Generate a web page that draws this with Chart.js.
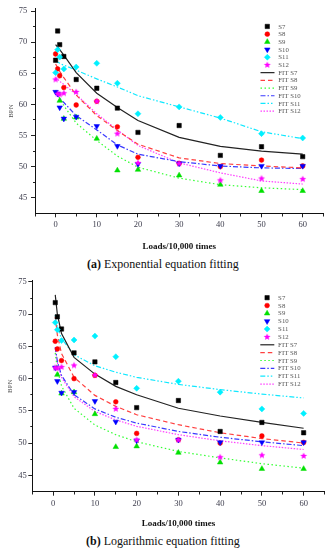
<!DOCTYPE html>
<html><head><meta charset="utf-8">
<script src="https://cdn.jsdelivr.net/npm/chart.js@4/dist/chart.umd.min.js"></script>
<style>
html,body{margin:0;padding:0;background:#fff;width:329px;height:550px;overflow:hidden;}
.wrap{position:absolute;left:0;}
.cap{position:absolute;font-family:"Liberation Serif",serif;font-size:12px;line-height:14px;color:#111;white-space:nowrap;}
</style></head><body>
<div class="wrap" style="top:0px"><canvas id="ca" width="329" height="255"></canvas></div>
<div class="cap" style="top:257px;left:87px"><b>(a)</b> Exponential equation fitting</div>
<div class="wrap" style="top:273px"><canvas id="cb" width="329" height="257"></canvas></div>
<div class="cap" style="top:534px;left:86px"><b>(b)</b> Logarithmic equation fitting</div>
<script>
// ---- data ----
const seriesNames = ['S7', 'S8', 'S9', 'S10', 'S11', 'S12'];
const fitNames = ['FIT S7', 'FIT S8', 'FIT S9', 'FIT S10', 'FIT S11', 'FIT S12'];
const loadsA = [0, 0.5, 1, 2, 5, 10, 15, 20, 30, 40, 50, 60];
const loadsB = [0.5, 1, 2, 5, 10, 15, 20, 30, 40, 50, 60];

// measured BPN (chart a, at loadsA)
const bpnS7a  = [67.1, 71.8, 69.6, 67.7, 64.0, 62.6, 59.4, 55.5, 56.6, 51.8, 53.2, 51.6];
const bpnS8a  = [68.1, 65.7, 64.6, 62.7, 59.9, 60.5, 56.4, 51.5, 50.5, 50.0, 51.05, 50.1];
const bpnS9a  = [null, null, 60.6, 57.7, 57.9, 54.5, 49.4, 49.5, 48.6, 47.1, 46.1, 46.1];
const bpnS10a = [62.0, 61.7, 59.5, 57.7, 58.0, 56.5, 53.3, 50.4, 50.5, 50.1, 50.1, 50.1];
const bpnS11a = [65.1, 68.8, 67.6, 65.7, 66.0, 66.6, 63.4, 58.5, 59.6, 57.9, 55.3, 54.6];
const bpnS12a = [64.0, 61.7, 61.6, 61.8, 62.0, 60.5, 55.3, 50.6, 50.5, 47.8, 48.1, 48.0];

// measured BPN (chart b, at loadsB)
const bpnS7b  = [71.8, 69.6, 67.7, 64.0, 62.6, 59.4, 55.5, 56.6, 51.8, 53.2, 51.6];
const bpnS8b  = [65.8, 64.6, 62.8, 60.0, 60.5, 56.4, 51.5, 50.5, 50.0, 51.1, 50.1];
const bpnS9b  = [null, 60.6, 57.7, 57.9, 54.5, 49.4, 49.5, 48.5, 47.0, 46.0, 46.0];
const bpnS10b = [61.7, 59.6, 57.8, 57.9, 56.5, 53.3, 50.4, 50.5, 50.1, 50.1, 50.1];
const bpnS11b = [68.7, 67.6, 65.9, 66.0, 66.6, 63.4, 58.5, 59.6, 57.9, 55.3, 54.6];
const bpnS12b = [61.7, 61.6, 61.8, 62.05, 60.55, 55.3, 50.5, 50.5, 47.8, 48.1, 48.0];

// fitted curves (exponential, chart a, at loadsA)
const fitS7a  = [69.6, 69.2, 68.8, 67.9, 65.1, 61.8, 59.5, 57.4, 54.7, 53.25, 52.5, 52.0];
const fitS8a  = [66.5, 65.9, 65.3, 64.3, 61.5, 58.2, 55.8, 53.6, 51.4, 50.5, 50.1, 49.8];
const fitS9a  = [62.3, 61.7, 61.0, 59.8, 57.0, 54.2, 51.7, 49.9, 48.15, 47.1, 46.6, 46.3];
const fitS10a = [61.8, 61.4, 61.0, 60.3, 58.2, 55.9, 53.5, 52.0, 50.8, 50.1, 49.8, 49.7];
const fitS11a = [67.0, 66.8, 66.6, 66.3, 65.5, 64.1, 62.8, 61.4, 59.6, 57.8, 55.6, 54.5];
const fitS12a = [64.3, 64.0, 63.7, 63.2, 61.6, 58.5, 55.9, 53.4, 50.6, 49.0, 47.7, 47.2];

// fitted curves (logarithmic, chart b, at loadsB)
const fitS7b  = [73.0, 70.0, 67.0, 63.3, 60.7, 58.8, 57.5, 55.4, 54.2, 53.2, 52.3];
const fitS8b  = [69.6, 66.8, 63.9, 60.2, 57.4, 55.7, 54.4, 52.85, 51.6, 50.7, 50.0];
const fitS9b  = [64.0, 61.45, 58.85, 55.4, 52.8, 51.3, 50.2, 48.7, 47.7, 46.8, 46.1];
const fitS10b = [64.9, 62.7, 60.5, 57.5, 55.3, 54.0, 53.1, 51.8, 50.9, 50.2, 49.6];
const fitS11b = [69.9, 68.0, 66.2, 63.7, 62.0, 61.0, 60.2, 59.1, 58.3, 57.6, 57.0];
const fitS12b = [64.8, 62.5, 60.2, 57.2, 54.9, 53.6, 52.6, 51.3, 50.35, 49.6, 49.0];

// axis ticks
const xMajor = [0, 10, 20, 30, 40, 50, 60];
const xMinor = [-5, 5, 15, 25, 35, 45, 55, 65];
const yMajor = [45, 50, 55, 60, 65, 70, 75];
const yMinor = [47.5, 52.5, 57.5, 62.5, 67.5, 72.5];

// ---- styles ----
const markerColors = ['#000000', '#ff0000', '#00e000', '#0000ff', '#00f0ff', '#ff00ff'];
const fitColors = ['#222222', '#ff4040', '#33ff33', '#3a3aff', '#10e8ff', '#ff40ff'];
const fitDash = [[], [4.5, 3], [1.5, 2.5], [5, 2, 1.5, 2], [5, 2, 1.5, 2, 1.5, 2], [1.5, 1.5]];

function starCanvas(color, r) {
  const s = Math.ceil(2 * r + 2);
  const c = document.createElement('canvas');
  c.width = s; c.height = s;
  const g = c.getContext('2d');
  g.fillStyle = color;
  g.beginPath();
  for (let i = 0; i < 10; i++) {
    const a = -Math.PI / 2 + i * Math.PI / 5;
    const rr = i % 2 === 0 ? r : r * 0.45;
    const px = s / 2 + rr * Math.cos(a), py = s / 2 + rr * Math.sin(a);
    if (i === 0) g.moveTo(px, py); else g.lineTo(px, py);
  }
  g.closePath();
  g.fill();
  return c;
}
const star = starCanvas('#ff00ff', 3.6);
const markerStyles = [
  {pointStyle: 'rect', radius: 3.1, rotation: 0},
  {pointStyle: 'circle', radius: 2.4, rotation: 0},
  {pointStyle: 'triangle', radius: 3.2, rotation: 0},
  {pointStyle: 'triangle', radius: 3.2, rotation: 180},
  {pointStyle: 'rectRot', radius: 3.0, rotation: 0},
  {pointStyle: star, radius: 3, rotation: 0}
];

function pts(xs, ys) {
  return xs.map((x, i) => ({x: x, y: ys[i]})).filter(p => p.y !== null);
}

function buildDatasets(loads, meas, fits) {
  const ds = [];
  meas.forEach((arr, i) => {
    ds.push({
      label: seriesNames[i], data: pts(loads, arr), showLine: false,
      pointStyle: markerStyles[i].pointStyle, pointRadius: markerStyles[i].radius,
      pointRotation: markerStyles[i].rotation,
      backgroundColor: markerColors[i], borderColor: markerColors[i], borderWidth: 0.5,
      order: 5 - i, _kind: 'marker', _idx: i
    });
  });
  fits.forEach((arr, i) => {
    ds.push({
      label: fitNames[i], data: pts(loads, arr), showLine: true, pointRadius: 0,
      borderColor: fitColors[i], borderWidth: 1.2, borderDash: fitDash[i], tension: 0, fill: false,
      order: 20 + i, _kind: 'fit', _idx: i
    });
  });
  return ds;
}

const legendPlugin = {
  id: 'fitLegend',
  afterDraw(chart, args, opts) {
    const ctx = chart.ctx;
    const ca = chart.chartArea;
    const mx = ca.right - opts.dx;
    let y = chart.scales.y.getPixelForValue(75) + opts.dy;
    ctx.save();
    ctx.font = '6.8px "Liberation Serif"';
    ctx.textBaseline = 'middle';
    ctx.textAlign = 'left';
    chart.data.datasets.forEach(d => {
      ctx.save();
      if (d._kind === 'marker') {
        const m = markerStyles[d._idx];
        ctx.fillStyle = markerColors[d._idx];
        ctx.strokeStyle = markerColors[d._idx];
        ctx.lineWidth = 0.5;
        Chart.helpers.drawPoint(ctx, {pointStyle: m.pointStyle, radius: m.radius, rotation: m.rotation, borderWidth: 0.5}, mx, y);
      } else {
        ctx.strokeStyle = fitColors[d._idx];
        ctx.lineWidth = 1.2;
        ctx.setLineDash(fitDash[d._idx]);
        ctx.beginPath();
        ctx.moveTo(mx - 6.8, y);
        ctx.lineTo(mx + 7.2, y);
        ctx.stroke();
      }
      ctx.restore();
      ctx.fillStyle = '#555';
      ctx.fillText(d.label, mx + 11, y + 0.3);
      y += opts.step;
    });
    ctx.restore();
  }
};

Chart.defaults.font.family = '"Liberation Serif", serif';

function makeChart(id, loads, meas, fits, cfg) {
  const tickFont = {family: '"Liberation Serif", serif', size: 8.5};
  return new Chart(document.getElementById(id), {
    type: 'scatter',
    data: {datasets: buildDatasets(loads, meas, fits)},
    plugins: [legendPlugin],
    options: {
      responsive: false, animation: false, events: [],
      layout: {padding: {top: cfg.padTop, right: cfg.padRight, left: 0, bottom: 0}},
      plugins: {legend: {display: false}, tooltip: {enabled: false},
        fitLegend: {dx: cfg.legDx, dy: cfg.legDy, step: cfg.legStep}},
      scales: {
        x: {
          type: 'linear', min: -5, max: 65,
          afterBuildTicks: s => { s.ticks = xMinor.concat(xMajor).sort((a, b) => a - b).map(v => ({value: v})); },
          afterFit: s => { s.height = cfg.xHeight; },
          ticks: {autoSkip: false, maxRotation: 0, padding: cfg.xPad, color: '#3c3c4c', font: tickFont,
            callback: v => xMajor.includes(v) ? String(v) : ''},
          grid: {drawOnChartArea: false, drawTicks: true, tickLength: 4, tickColor: '#222', tickWidth: 1,
            tickBorderDash: c => (c.tick && !xMajor.includes(c.tick.value)) ? [2.5, 10] : []},
          border: {display: true, color: '#111', width: 1},
          title: {display: true, text: 'Loads/10,000 times', color: '#111',
            font: {family: '"Liberation Serif", serif', size: 9, weight: 'bold'}, padding: {top: 0, bottom: cfg.xTitlePad}}
        },
        y: {
          type: 'linear', min: cfg.yMin, max: cfg.yMax,
          afterBuildTicks: s => { s.ticks = yMinor.concat(yMajor).sort((a, b) => a - b).map(v => ({value: v})); },
          afterFit: s => { s.width = cfg.yWidth; },
          ticks: {autoSkip: false, padding: cfg.yPad, color: '#3c3c4c', font: tickFont,
            callback: v => yMajor.includes(v) ? String(v) : ''},
          grid: {drawOnChartArea: false, drawTicks: true, tickLength: 4, tickColor: '#222', tickWidth: 1,
            tickBorderDash: c => (c.tick && !yMajor.includes(c.tick.value)) ? [0, 2, 2] : []},
          border: {display: true, color: '#111', width: 1},
          title: {display: true, text: 'BPN', color: '#555',
            font: {family: '"Liberation Serif", serif', size: 7}, padding: {top: cfg.yTitlePad, bottom: 0}}
        }
      }
    }
  });
}

makeChart('ca', loadsA,
  [bpnS7a, bpnS8a, bpnS9a, bpnS10a, bpnS11a, bpnS12a],
  [fitS7a, fitS8a, fitS9a, fitS10a, fitS11a, fitS12a],
  {padTop: 5, padRight: 5.7, xHeight: 41.7, yWidth: 35, yMin: 42.5, yMax: 75.36,
   xPad: 2.5, yPad: 3.7, xTitlePad: 2.6, yTitlePad: 6.8, legDx: 56, legDy: 15.4, legStep: 7.7});

makeChart('cb', loadsB,
  [bpnS7b, bpnS8b, bpnS9b, bpnS10b, bpnS11b, bpnS12b],
  [fitS7b, fitS8b, fitS9b, fitS10b, fitS11b, fitS12b],
  {padTop: 7.7, padRight: 3.3, xHeight: 38.3, yWidth: 32.3, yMin: 42.45, yMax: 75.2,
   xPad: 2.5, yPad: 1.6, xTitlePad: 0.6, yTitlePad: 5.5, legDx: 57.4, legDy: 15.7, legStep: 7.85});
</script>
</body></html>
